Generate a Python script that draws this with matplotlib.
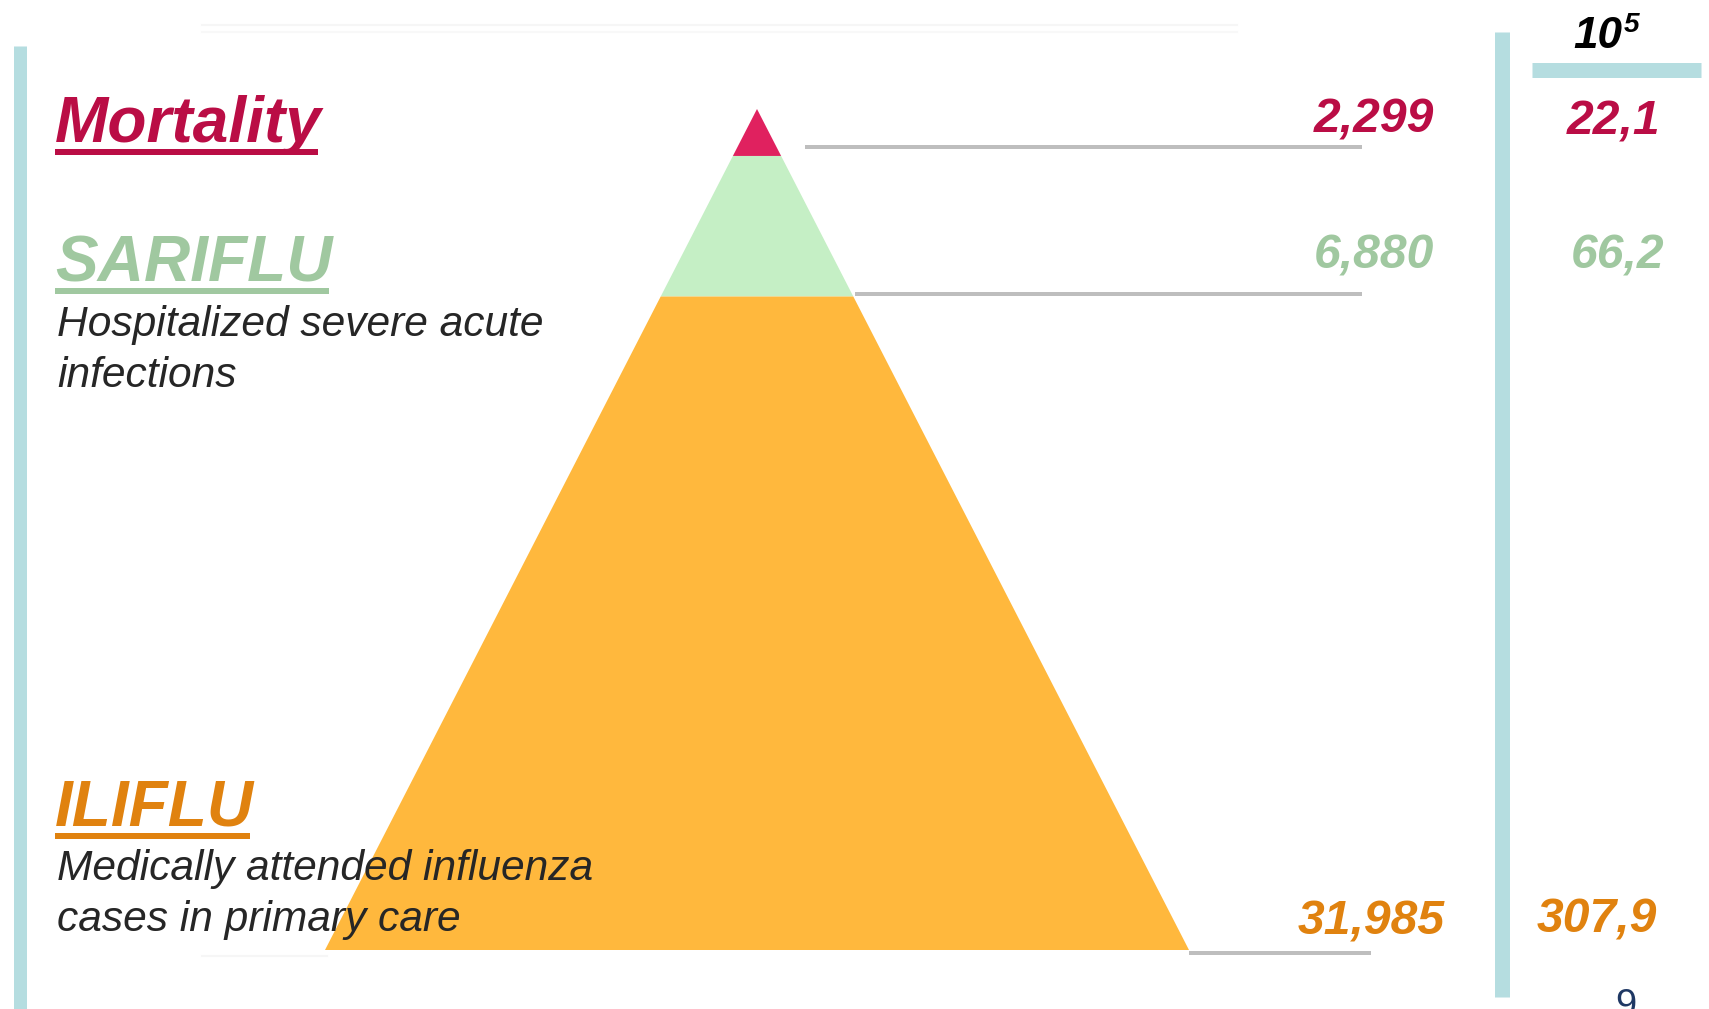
import matplotlib
matplotlib.use('Agg')
import matplotlib.pyplot as plt
from matplotlib.patches import Polygon

# data
layers = ['Mortality', 'SARIFLU', 'ILIFLU']
descriptions = [[], ['Hospitalized severe acute', 'infections'],
                ['Medically attended influenza', 'cases in primary care']]
counts = [2299, 6880, 31985]
rates = [22.1, 66.2, 307.9]   # per 10^5

text_colors = ['#BA0D45', '#A0C8A0', '#E0820F']
fill_colors = ['#E0215F', '#C5EFC5', '#FFB83D']
teal = '#B5DDE0'
grey = '#BEBEBE'

W, H = 1709, 1009
fig = plt.figure(figsize=(W / 100, H / 100), dpi=100)
ax = fig.add_axes([0, 0, 1, 1])
ax.set_xlim(0, W)
ax.set_ylim(H, 0)
ax.axis('off')

def pt(px):
    return px * 0.72

font = 'Liberation Sans'

# pyramid, layer heights proportional to counts
apex_x, apex_y = 757, 109
pyr_h, base_half = 841, 432
total = sum(counts)
cum = 0
bases = []
for c, col in zip(counts, fill_colors):
    y0 = apex_y + pyr_h * cum / total
    h0 = base_half * cum / total
    cum += c
    y1 = apex_y + pyr_h * cum / total
    h1 = base_half * cum / total
    ax.add_patch(Polygon([(apex_x - h0, y0), (apex_x + h0, y0),
                          (apex_x + h1, y1), (apex_x - h1, y1)],
                         closed=True, facecolor=col, edgecolor='none'))
    bases.append((y1, h1))

# grey leader lines
line_dy = [-9, -3, 3]
line_gap = [24, 2, 0]
line_end = [1362, 1362, 1371]
for (yb, hb), dy, gap, xe in zip(bases, line_dy, line_gap, line_end):
    ax.plot([apex_x + hb + gap, xe], [yb + dy, yb + dy], color=grey, lw=pt(4),
            solid_capstyle='butt')

# vertical teal bars
ax.plot([19.5, 19.5], [46, H], color=teal, lw=pt(13), solid_capstyle='butt')
ax.plot([1501.5, 1501.5], [32, 997], color=teal, lw=pt(15), solid_capstyle='butt')
ax.plot([1532, 1701], [69.5, 69.5], color=teal, lw=pt(15), solid_capstyle='butt')

# faint lines from the slide
ax.plot([202, 1237], [25, 25], color='#F6F6F6', lw=1.5)
ax.plot([202, 1237], [32, 32], color='#F8F8F8', lw=1.5)
ax.plot([202, 327], [956, 956], color='#F6F6F6', lw=1.5)

# titles, underlined
title_y = [142, 281, 826]
desc_y = [0, 336, 880]
line_step = 51
fig.canvas.draw()
r = fig.canvas.get_renderer()
inv = ax.transData.inverted()
for name, desc, col, ty, dy in zip(layers, descriptions, text_colors, title_y, desc_y):
    t = ax.text(55, ty, name, color=col, fontsize=pt(64), fontweight='bold',
                fontstyle='italic', family=font, va='baseline', ha='left')
    bb = t.get_window_extent(renderer=r)
    x0 = inv.transform((bb.x0, 0))[0]
    x1 = inv.transform((bb.x1, 0))[0]
    ax.plot([x0, x1 - 4], [ty + 10, ty + 10], color=col, lw=pt(6),
            solid_capstyle='butt')
    for i, line in enumerate(desc):
        ax.text(57, dy + i * line_step, line, color='#262626', fontsize=pt(42.5),
                fontstyle='italic', family=font, va='baseline', ha='left')

# counts
count_x = [1434, 1434, 1445]
count_y = [133, 268, 935]
for c, col, x, y in zip(counts, text_colors, count_x, count_y):
    ax.text(x, y, f'{c:,}', color=col, fontsize=pt(48), fontweight='bold',
            fontstyle='italic', family=font, ha='right', va='baseline')

# rates per 10^5
rate_x = [1614, 1618, 1597]
rate_y = [135, 268, 932]
for v, col, x, y in zip(rates, text_colors, rate_x, rate_y):
    ax.text(x, y, f'{v:.1f}'.replace('.', ','), color=col, fontsize=pt(48),
            fontweight='bold', fontstyle='italic', family=font,
            ha='center', va='baseline')

t10 = ax.text(1573, 48, '10', color='black', fontsize=pt(44), fontweight='bold',
              fontstyle='italic', family=font, ha='left', va='baseline')
bb = t10.get_window_extent(renderer=r)
x5 = inv.transform((bb.x1, 0))[0]
ax.text(x5 + 2, 32, '5', color='black', fontsize=pt(28), fontweight='bold',
        fontstyle='italic', family=font, ha='left', va='baseline')

# page number (cut off)
ax.text(1626, 1016, '9', color='#1F3864', fontsize=pt(38), family=font,
        ha='center', va='baseline')

fig.savefig('out.png', dpi=100)
